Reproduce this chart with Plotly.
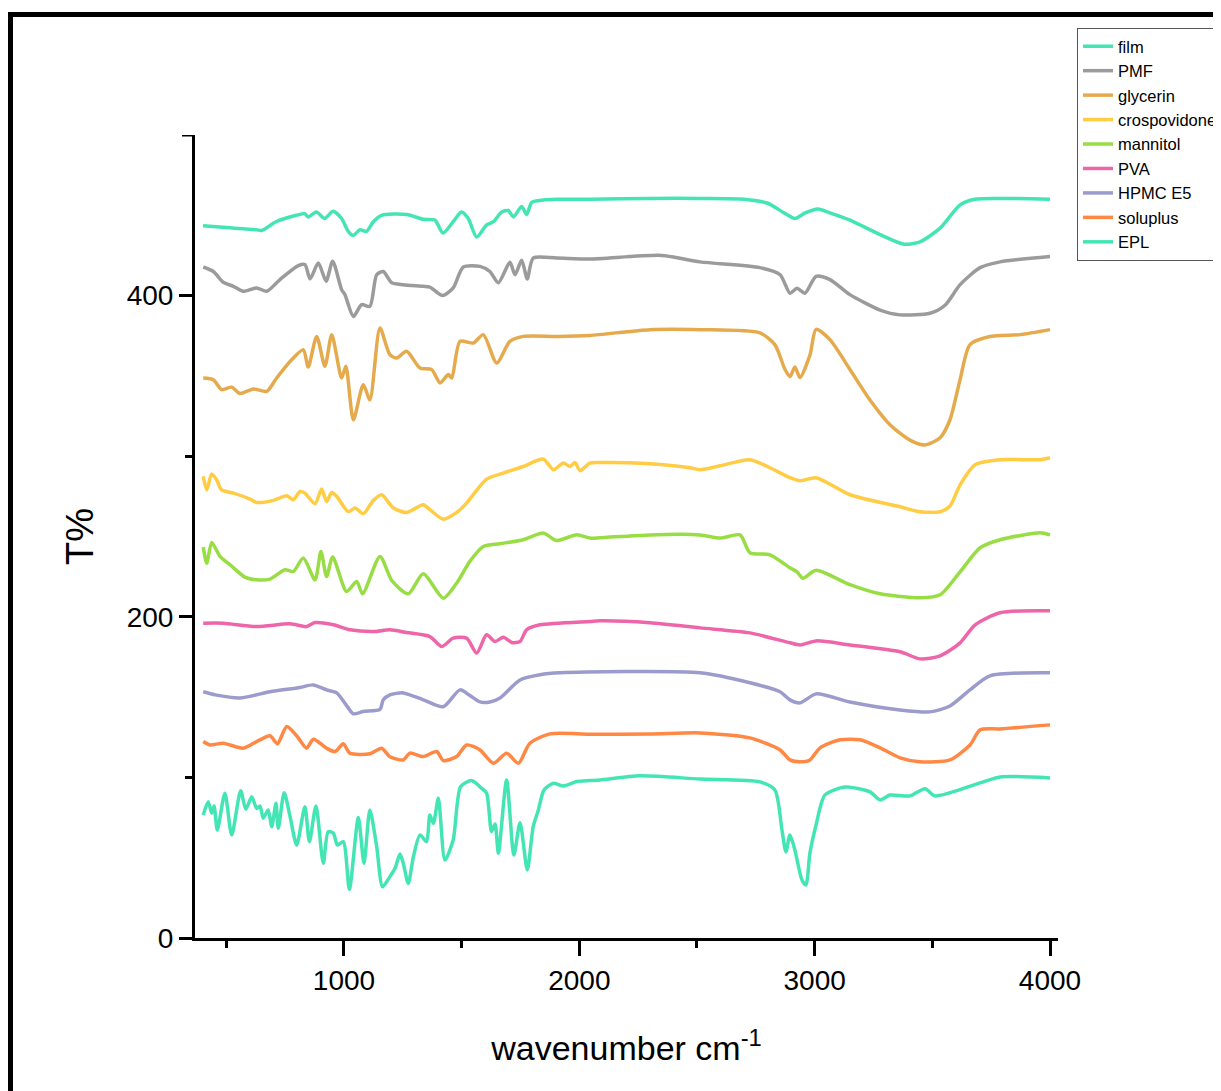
import plotly.graph_objects as go

# ---------------- data (wavenumber cm-1, T%) ----------------
film_x = [401, 485, 628, 650, 711, 798, 833, 848, 883, 918, 954, 990, 1018, 1039, 1068, 1096, 1125, 1160, 1266, 1337,
          1386, 1421, 1464, 1499, 1528, 1564, 1606, 1635, 1670, 1698, 1720, 1755, 1776, 1798, 1847, 1904, 2050, 2300,
          2513, 2700, 2800, 2870, 2916, 2960, 3014, 3065, 3150, 3278, 3380, 3448, 3533, 3618, 3680, 3788, 4000]
film_y = [443.5, 442.5, 441, 440.5, 446, 450, 451, 449, 452, 448, 452.5, 448, 440, 437.5, 441, 440, 446, 450, 450.5, 447.5,
          447, 439, 446, 452, 448, 436.5, 444, 446, 452, 453, 449, 455.5, 450.5, 458, 459.5, 460, 460, 460.5,
          460.5, 460, 457.5, 451.5, 448, 451.5, 454, 451.5, 447, 438, 432, 433.5, 442, 456.5, 460, 460.5, 460]

pmf_x = [402, 445, 487, 530, 572, 629, 672, 728, 806, 834, 856, 891, 924, 952, 990, 1004, 1040, 1075, 1110, 1139, 1167,
         1203, 1252, 1337, 1365, 1419, 1464, 1507, 1578, 1620, 1656, 1705, 1727, 1755, 1779, 1804, 1904, 2045, 2350,
         2513, 2767, 2853, 2895, 2925, 2959, 3006, 3065, 3150, 3278, 3363, 3490, 3554, 3618, 3703, 3788, 4000]
pmf_y = [417.8, 415, 408.3, 405.8, 402.7, 404.8, 402.7, 410, 418.7, 419.3, 410.4, 420.3, 409, 421.4, 403.7, 400.6, 387,
         394.4, 393.3, 413, 415, 408, 406.8, 405.8, 405.3, 400, 404.8, 417.8, 418.2, 415, 408, 420.7, 413, 422, 410.4,
         423.4, 423.4, 422.8, 425, 421, 417.4, 413, 401.5, 404.5, 401.5, 412, 410, 400.6, 391, 388, 389, 394, 406.8,
         417.4, 421, 424.3]

gly_x = [402, 445, 480, 523, 558, 615, 672, 714, 771, 827, 848, 884, 919, 948, 990, 1008, 1040, 1082, 1110, 1153, 1195,
         1224, 1266, 1323, 1373, 1408, 1443, 1458, 1493, 1550, 1592, 1649, 1705, 1762, 1904, 2045, 2300, 2513, 2767,
         2831, 2874, 2895, 2916, 2938, 2980, 3006, 3065, 3150, 3235, 3320, 3405, 3469, 3533, 3575, 3618, 3660, 3745,
         3873, 4000]
gly_y = [348.7, 347.6, 341.4, 343, 339, 341.9, 340.4, 348.7, 359, 366.3, 355.5, 374.6, 356, 375.7, 348.7, 356, 322.7,
         344.5, 335.2, 379.8, 363.2, 361.1, 365.3, 354.9, 353.9, 345.6, 350.8, 348.7, 371.5, 370.5, 375.7, 358, 371.5,
         374.6, 374.6, 375.2, 378.8, 378.8, 376.8, 369.5, 354, 349.5, 355.5, 349, 363, 379, 372.6, 354, 335, 319.6,
         310, 307, 311.5, 322.7, 347.7, 369.5, 374.5, 375.7, 378.8]

cro_x = [402, 417, 438, 459, 480, 530, 601, 629, 700, 757, 785, 813, 834, 877, 905, 926, 948, 969, 1018, 1047, 1082,
         1125, 1160, 1210, 1266, 1337, 1365, 1422, 1479, 1521, 1606, 1677, 1762, 1847, 1890, 1932, 1960, 1982, 2003,
         2045, 2088, 2300, 2470, 2513, 2598, 2725, 2810, 2895, 2938, 3006, 3150, 3363, 3448, 3533, 3575, 3618, 3682,
         3788, 3958, 4000]
cro_y = [287.4, 279, 289, 285.3, 279, 277, 273.3, 271.2, 272.5, 275.4, 272.9, 278, 277, 270.4, 279.5, 271.8, 277.4, 275,
         265.5, 267.7, 264.2, 272.5, 276, 267.7, 265, 269.8, 266.7, 260.8, 265, 270.8, 285.7, 289.5, 293.6, 298.2,
         291.6, 295.7, 293.6, 296, 291, 295.7, 296, 295.3, 292.8, 291.6, 294, 297.8, 292.8, 286.6, 284.7, 286.6, 276,
         268.5, 265.4, 265.4, 269, 282.2, 294.7, 297.8, 297.8, 299]

man_x = [402, 417, 438, 473, 516, 579, 629, 686, 749, 785, 827, 877, 902, 926, 952, 1011, 1054, 1079, 1153, 1203, 1273,
         1337, 1422, 1479, 1535, 1592, 1663, 1762, 1847, 1904, 1989, 2045, 2088, 2300, 2513, 2598, 2683, 2725, 2810,
         2895, 2925, 2950, 3006, 3150, 3278, 3448, 3533, 3618, 3703, 3788, 3958, 4000]
man_y = [243.4, 233.4, 246.3, 237.6, 232.4, 224.7, 223, 223.5, 229.3, 228.2, 236.6, 223, 240.7, 225.1, 237.2, 215.8, 222,
         214.3, 237.6, 222.6, 214.3, 226.8, 211.6, 221, 234.5, 243.8, 245.5, 248, 252.1, 247.5, 251.1, 249, 249.2, 251,
         251, 249, 251, 239.9, 238.6, 230.5, 228, 224, 229, 220, 214.3, 211.8, 213.7, 228, 243, 248, 252.3, 251]

pva_x = [402, 487, 629, 771, 841, 877, 955, 1025, 1125, 1195, 1266, 1365, 1415, 1464, 1521, 1564, 1606, 1642, 1677,
         1713, 1748, 1776, 1833, 2045, 2088, 2300, 2513, 2725, 2895, 2938, 3006, 3150, 3363, 3448, 3533, 3618, 3682,
         3788, 4000]
pva_y = [196, 196, 193.9, 195.6, 193.9, 196.4, 195, 191.9, 190.8, 191.9, 190.2, 187.7, 181.5, 186.7, 186.7, 177.4, 188.8,
         184.6, 187.3, 184, 184.6, 191.9, 195, 197.1, 197.5, 196.3, 193.1, 190, 183.8, 182.5, 185, 182.5, 178.2, 173.8,
         175.7, 183.8, 195, 202.5, 203.7]

hpmc_x = [402, 453, 558, 686, 813, 869, 926, 969, 1018, 1040, 1082, 1153, 1167, 1195, 1252, 1337, 1422, 1493, 1535,
          1578, 1620, 1663, 1748, 1833, 1918, 2513, 2725, 2853, 2895, 2938, 3006, 3150, 3363, 3490, 3575, 3660, 3745,
          4000]
hpmc_y = [153.3, 151.4, 149.5, 153.3, 156, 157.6, 154.5, 152.6, 143.3, 139.6, 141, 142.4, 148.3, 151.4, 152.6, 148.3,
          144, 154.5, 151, 147, 147, 149.5, 160.7, 163.9, 165.1, 165.1, 158.9, 153.3, 148.3, 146.4, 152, 147, 142,
          140.8, 144.5, 154.5, 163.2, 165.1]

sol_x = [402, 431, 487, 572, 629, 686, 717, 757, 799, 841, 870, 926, 962, 997, 1025, 1110, 1160, 1195, 1252, 1280, 1337,
         1394, 1422, 1479, 1521, 1578, 1635, 1691, 1741, 1790, 1875, 2045, 2300, 2513, 2725, 2853, 2895, 2938, 2980,
         3023, 3108, 3193, 3278, 3363, 3448, 3575, 3660, 3703, 3788, 4000]
sol_y = [122.3, 120.2, 121.3, 118.2, 122.3, 125.9, 120.9, 131.7, 125.9, 118.2, 123.8, 118.2, 116.1, 120.9, 115.1,
         114.7, 118.2, 112.9, 110.9, 115.1, 113, 116.1, 110.5, 113, 120.2, 117.1, 108.8, 115.1, 108.8, 121.3, 127.1,
         126.9, 127, 127.7, 124.6, 117.1, 110.9, 109.7, 110.9, 118.4, 123.4, 123.4, 118.4, 112.2, 109.7, 110.9, 120.2,
         129.6, 130.2, 132.7]

epl_x = [402, 423, 438, 448, 462, 494, 523, 561, 583, 608, 629, 643, 657, 678, 693, 711, 721, 746, 771, 799, 834, 853,
         881, 912, 933, 955, 972, 997, 1023, 1061, 1085, 1110, 1139, 1164, 1195, 1217, 1238, 1252, 1273, 1295, 1323,
         1351, 1365, 1380, 1401, 1429, 1464, 1496, 1542, 1585, 1606, 1627, 1642, 1656, 1691, 1722, 1748, 1779, 1804,
         1826, 1850, 1890, 1932, 1989, 2045, 2088, 2258, 2513, 2768, 2831, 2861, 2878, 2895, 2916, 2946, 2963, 2980,
         3006, 3044, 3129, 3235, 3278, 3320, 3405, 3469, 3511, 3703, 3788, 4000]
epl_y = [76.6, 84.9, 77.7, 82.2, 67.3, 90.2, 64.2, 91.7, 80.2, 88, 80.7, 82.2, 74.6, 79.7, 69.3, 83.9, 68.3, 90.5, 75.6,
         57.9, 81.8, 60, 82.2, 46.5, 66.2, 65.2, 57.9, 60, 30.3, 75.1, 46.5, 79.7, 56.9, 31.9, 38.2, 43.4, 52.3, 46.5,
         34, 50.6, 64.2, 60, 76.6, 71.4, 87, 48.6, 61, 94.3, 98, 93.2, 90.2, 66.2, 71, 52.8, 98.4, 51.7, 71.8, 42.4,
         69.3, 79.7, 92.2, 96.4, 94.7, 97.4, 98, 98.4, 101, 99, 97.2, 92.2, 67.3, 53.6, 64.2, 54.8, 36.1, 33, 53,
         70.4, 89.1, 94, 91, 86, 89, 88.5, 93, 88.5, 96.6, 100.3, 99.7]

names = ["film", "PMF", "glycerin", "crospovidone", "mannitol", "PVA", "HPMC E5", "soluplus", "EPL"]
colors = ["#44E5B4", "#9B9B9B", "#E5AA4C", "#FFCC44", "#99DD44", "#EE66AA", "#9B9BCC", "#FF8844", "#44E5B4"]
xs = [film_x, pmf_x, gly_x, cro_x, man_x, pva_x, hpmc_x, sol_x, epl_x]
ys = [film_y, pmf_y, gly_y, cro_y, man_y, pva_y, hpmc_y, sol_y, epl_y]

x_ticks = [1000, 2000, 3000, 4000]
x_minor = [500, 1500, 2500, 3500]
y_ticks = [0, 200, 400]
y_minor = [100, 300]
y_top_tick = 500

FONT = "Liberation Sans, Arial, sans-serif"

fig = go.Figure()
for n, c, x, y in zip(names, colors, xs, ys):
    fig.add_trace(go.Scatter(x=x, y=y, name=n, mode="lines",
                             line=dict(color=c, width=3.5, shape="spline", smoothing=0.7)))

# the page body has an 8px margin, so the figure is 8px smaller than the window
OFF = 8
W, H = 1221 - OFF, 1091 - OFF
L, R, T, B = 195 - OFF, 163, 135 - OFF, 153
pw, ph = W - L - R, H - T - B

def px(x):  # reference-screenshot pixel -> paper x
    return (x - OFF - L) / pw

def py(y):  # reference-screenshot pixel -> paper y
    return (H - B - (y - OFF)) / ph

fig.update_layout(
    width=W, height=H,
    margin=dict(l=L, r=R, t=T, b=B, autoexpand=False),
    paper_bgcolor="white", plot_bgcolor="white",
    font=dict(family=FONT, color="black"),
    showlegend=True,
    legend=dict(x=px(1077), y=py(28), xanchor="left", yanchor="top",
                font=dict(size=16.5, family=FONT, color="black"),
                bordercolor="#555555", borderwidth=1, bgcolor="white",
                tracegroupgap=0, itemwidth=30),
    xaxis=dict(range=[367, 4034], showgrid=False, zeroline=False,
               showline=True, linecolor="black", linewidth=3,
               ticks="outside", tickvals=x_ticks, ticklen=15, tickwidth=3, tickcolor="black",
               tickfont=dict(size=28, family=FONT),
               minor=dict(tickvals=x_minor, ticks="outside", ticklen=7, tickwidth=3, tickcolor="black"),
               title=dict(text="wavenumber cm<sup>-1</sup>", font=dict(size=34, family=FONT), standoff=42)),
    yaxis=dict(range=[0, 500], showgrid=False, zeroline=False,
               showline=True, linecolor="black", linewidth=3,
               ticks="outside", tickvals=y_ticks, ticklen=13, tickwidth=3,
               tickcolor="black", tickfont=dict(size=28, family=FONT),
               minor=dict(tickvals=y_minor, ticks="outside", ticklen=7, tickwidth=3, tickcolor="black"),
               title=dict(text="T%", font=dict(size=38, family=FONT), standoff=22)),
)

# unlabeled major tick at the top of the y axis
fig.add_shape(type="line", xref="paper", yref="y",
              x0=px(182), x1=px(195), y0=y_top_tick, y1=y_top_tick,
              line=dict(color="black", width=3))

# outer (cropped) frame lines of the original figure
fig.add_shape(type="line", xref="paper", yref="paper",
              x0=px(10.5), x1=px(1230), y0=py(14.5), y1=py(14.5),
              line=dict(color="black", width=5))
fig.add_shape(type="line", xref="paper", yref="paper",
              x0=px(10.5), x1=px(10.5), y0=py(12), y1=py(1100),
              line=dict(color="black", width=5))

fig.write_html("out.html")
